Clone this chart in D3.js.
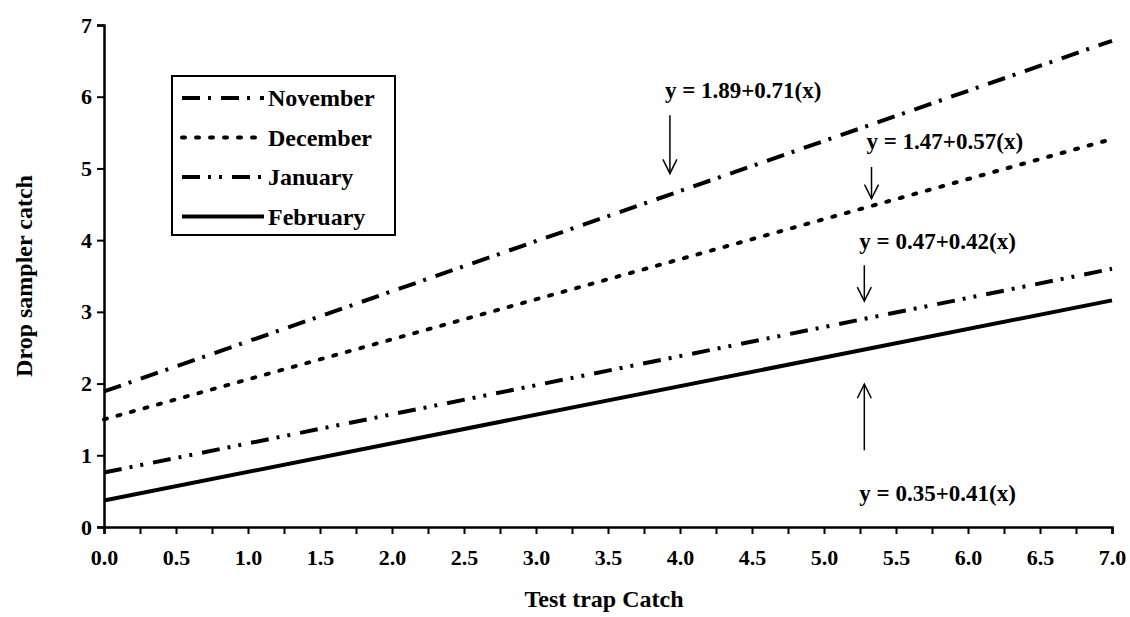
<!DOCTYPE html>
<html>
<head>
<meta charset="utf-8">
<script src="https://cdn.jsdelivr.net/npm/d3@7"></script>
<style>
  body { margin: 0; background: #fff; }
  text { font-family: "Liberation Serif", "Times New Roman", serif; fill: #000; }
</style>
</head>
<body>
<div id="chart"></div>
<script>
// data
var months = ["November", "December", "January", "February"];
var xEnds = [0, 7];
var novemberY = [1.89, 6.78];
var decemberY = [1.50, 5.41];
var januaryY = [0.76, 3.60];
var februaryY = [0.37, 3.16];
var equations = ["y = 1.89+0.71(x)", "y = 1.47+0.57(x)", "y = 0.47+0.42(x)", "y = 0.35+0.41(x)"];
var xTickValues = d3.range(0, 7.01, 0.25);
var xTickLabels = ["0.0", "0.5", "1.0", "1.5", "2.0", "2.5", "3.0", "3.5", "4.0", "4.5", "5.0", "5.5", "6.0", "6.5", "7.0"];
var yTickValues = [0, 1, 2, 3, 4, 5, 6, 7];

var svgWidth = 1130;
var svgHeight = 617;
var margin = { top: 25, right: 18, bottom: 90, left: 104 };
var width = svgWidth - margin.left - margin.right;
var height = svgHeight - margin.top - margin.bottom;

var svg = d3.select("#chart")
  .append("svg")
  .attr("width", svgWidth)
  .attr("height", svgHeight);

var chartGroup = svg.append("g")
  .attr("transform", `translate(${margin.left}, ${margin.top})`);

var xScale = d3.scaleLinear().domain([0, 7]).range([0, width]);
var yScale = d3.scaleLinear().domain([0, 7]).range([height, 0]);

// line styles per month
var dashes = ["18,8,3,10", "3,11", "18,8,3,8,3,10", null];
var seriesY = [novemberY, decemberY, januaryY, februaryY];

var series = months.map(function(m, i) {
  return { name: m, dash: dashes[i], values: xEnds.map((x, j) => ({ x: x, y: seriesY[i][j] })) };
});

var line = d3.line()
  .x(d => xScale(d.x))
  .y(d => yScale(d.y));

chartGroup.selectAll(".series")
  .data(series)
  .enter()
  .append("path")
  .attr("class", "series")
  .attr("d", d => line(d.values))
  .attr("fill", "none")
  .attr("stroke", "#000")
  .attr("stroke-width", 4)
  .attr("stroke-linecap", d => d.dash === "3,11" ? "round" : "butt")
  .attr("stroke-dasharray", d => d.dash);

// axes
var bottomAxis = d3.axisBottom(xScale)
  .tickValues(xTickValues)
  .tickSize(7)
  .tickFormat(function(d) {
    var k = Math.round(d * 4);
    return k % 2 === 0 ? xTickLabels[k / 2] : "";
  });

var leftAxis = d3.axisLeft(yScale)
  .tickValues(yTickValues)
  .tickSize(7)
  .tickFormat(d3.format("d"));

var xAxis = chartGroup.append("g")
  .attr("transform", `translate(0, ${height})`)
  .call(bottomAxis);

var yAxis = chartGroup.append("g")
  .call(leftAxis);

[xAxis, yAxis].forEach(function(ax) {
  ax.select(".domain").attr("stroke", "#000").attr("stroke-width", 2.5);
  ax.selectAll(".tick line").attr("stroke", "#000").attr("stroke-width", 2);
  ax.selectAll(".tick text")
    .style("font-family", "'Liberation Serif', serif")
    .style("font-size", "22px")
    .style("font-weight", "bold")
    .attr("fill", "#000");
});
xAxis.selectAll(".tick text").attr("dy", "1.25em");
yAxis.selectAll(".tick text").attr("x", -12);

// axis titles
chartGroup.append("text")
  .attr("x", width / 2 - 4)
  .attr("y", height + 80)
  .attr("text-anchor", "middle")
  .style("font-size", "24px")
  .style("font-weight", "bold")
  .text("Test trap Catch");

chartGroup.append("text")
  .attr("transform", `translate(-72, ${height / 2}) rotate(-90)`)
  .attr("text-anchor", "middle")
  .style("font-size", "24px")
  .style("font-weight", "bold")
  .text("Drop sampler catch");

// legend
var legend = svg.append("g").attr("transform", "translate(172, 76)");
legend.append("rect")
  .attr("width", 223)
  .attr("height", 159)
  .attr("fill", "#fff")
  .attr("stroke", "#000")
  .attr("stroke-width", 2);

var legendRows = legend.selectAll(".row")
  .data(series)
  .enter()
  .append("g")
  .attr("class", "row")
  .attr("transform", (d, i) => `translate(0, ${22 + i * 39.5})`);

legendRows.append("line")
  .attr("x1", 10)
  .attr("x2", 92)
  .attr("stroke", "#000")
  .attr("stroke-width", 4)
  .attr("stroke-linecap", d => d.dash === "3,11" ? "round" : "butt")
  .attr("stroke-dasharray", d => d.dash);

legendRows.append("text")
  .attr("x", 96)
  .attr("dy", "0.35em")
  .style("font-size", "24px")
  .style("font-weight", "bold")
  .text(d => d.name);

// equation annotations: arrow x in data units, text/arrow y in data units
var notes = [
  { text: equations[0], x: 3.93, ty: 6.1, a0: 5.74, a1: 4.93, up: false },
  { text: equations[1], x: 5.33, ty: 5.39, a0: 5.02, a1: 4.58, up: false },
  { text: equations[2], x: 5.28, ty: 3.99, a0: 3.65, a1: 3.15, up: false },
  { text: equations[3], x: 5.28, ty: 0.48, a0: 1.07, a1: 1.99, up: true }
];

notes.forEach(function(n) {
  var ax = xScale(n.x);
  var y0 = yScale(n.a0);
  var y1 = yScale(n.a1);
  chartGroup.append("line")
    .attr("x1", ax).attr("x2", ax)
    .attr("y1", y0).attr("y2", y1)
    .attr("stroke", "#000").attr("stroke-width", 1.5);
  var dir = n.up ? 1 : -1;
  chartGroup.append("path")
    .attr("d", `M${ax - 7},${y1 + dir * 14}L${ax},${y1}L${ax + 7},${y1 + dir * 14}`)
    .attr("fill", "none")
    .attr("stroke", "#000")
    .attr("stroke-width", 1.5);
  chartGroup.append("text")
    .attr("x", ax - 5)
    .attr("y", yScale(n.ty))
    .attr("dy", "0.35em")
    .style("font-size", "23px")
    .style("font-weight", "bold")
    .text(n.text);
});
</script>
</body>
</html>
